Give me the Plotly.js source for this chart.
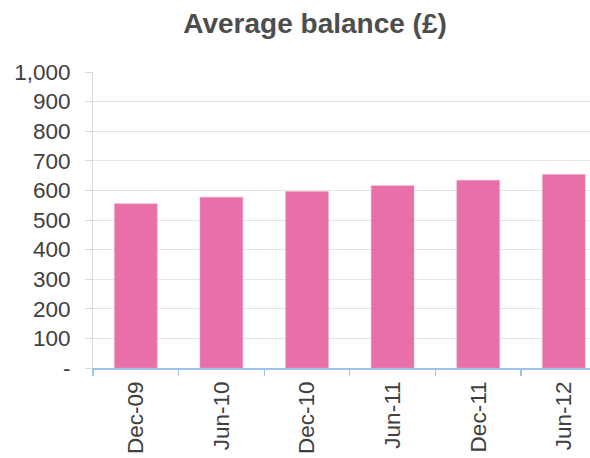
<!DOCTYPE html>
<html>
<head>
<meta charset="utf-8">
<script src="https://cdn.plot.ly/plotly-3.0.1.min.js"></script>
<style>html,body{margin:0;padding:0;background:#fff;}#chart{width:590px;height:458px;}</style>
</head>
<body>
<div id="chart"></div>
<script>
const categories = ["Dec-09", "Jun-10", "Dec-10", "Jun-11", "Dec-11", "Jun-12"];
const averageBalance = [555, 577, 596, 616, 634, 654];
const yTickValues = [0, 100, 200, 300, 400, 500, 600, 700, 800, 900, 1000];
const yTickLabels = ["-", "100", "200", "300", "400", "500", "600", "700", "800", "900", "1,000"];

const trace = {
  type: "bar",
  x: categories,
  y: averageBalance,
  width: 0.5,
  marker: { color: "#E86FA8", line: { color: "#E8A2C4", width: 0.5 } },
  hoverinfo: "x+y"
};

const layout = {
  width: 590,
  height: 458,
  margin: { l: 93, r: 0, t: 72, b: 90 },
  paper_bgcolor: "#ffffff",
  plot_bgcolor: "#ffffff",
  showlegend: false,
  font: { family: "Liberation Sans, Arial, sans-serif", color: "#404040" },
  title: {
    text: "<b>Average balance (£)</b>",
    font: { family: "Liberation Sans, Arial, sans-serif", size: 28, color: "#4D4D4D" },
    xref: "container", yref: "container",
    x: 0.534, xanchor: "center",
    y: 0.950, yanchor: "middle"
  },
  xaxis: {
    type: "category",
    range: [-0.5, 5.306],
    showgrid: false,
    showline: true,
    linecolor: "#9DC3E6",
    linewidth: 1.5,
    ticks: "outside",
    tickson: "boundaries",
    ticklen: 6,
    tickcolor: "#9DC3E6",
    tickwidth: 1.2,
    tickangle: -90,
    tickfont: { size: 22.5, color: "#404040" },
    ticklabelstandoff: 3,
    zeroline: false,
    fixedrange: true
  },
  yaxis: {
    range: [0, 1000],
    tickvals: yTickValues,
    ticktext: yTickLabels,
    showgrid: true,
    gridcolor: "#E4E4E4",
    gridwidth: 1,
    showline: true,
    linecolor: "#D9D9D9",
    linewidth: 1,
    ticks: "outside",
    ticklen: 7,
    tickcolor: "#D9D9D9",
    tickfont: { size: 22.5, color: "#404040" },
    ticklabelstandoff: 10,
    zeroline: false,
    fixedrange: true
  },
  bargap: 0.5
};

Plotly.newPlot("chart", [trace], layout, { displayModeBar: false, staticPlot: true });
</script>
</body>
</html>
